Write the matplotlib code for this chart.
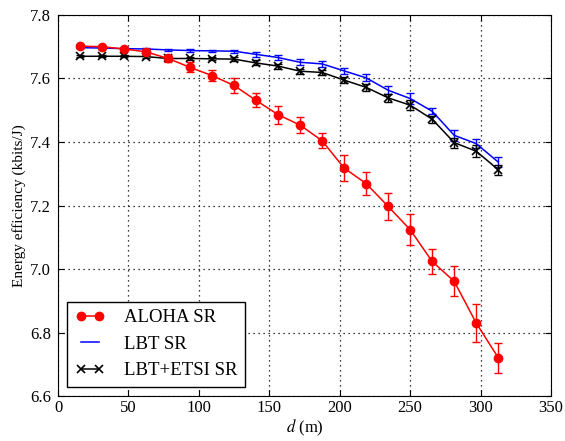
import matplotlib
matplotlib.use('Agg')
import matplotlib.pyplot as plt

# distance (m)
d = [15.6, 31.3, 46.9, 62.5, 78.1, 93.8, 109.4, 125.0, 140.6, 156.3,
     171.9, 187.5, 203.1, 218.8, 234.4, 250.0, 265.6, 281.3, 296.9, 312.5]

# energy efficiency (kbits/J) and confidence half-widths
aloha = [7.702, 7.700, 7.693, 7.684, 7.663, 7.635, 7.609, 7.578, 7.531, 7.486,
         7.453, 7.404, 7.318, 7.269, 7.197, 7.124, 7.024, 6.961, 6.830, 6.721]
aloha_err = [0.003, 0.003, 0.004, 0.008, 0.011, 0.016, 0.017, 0.024, 0.022, 0.028,
             0.026, 0.024, 0.040, 0.035, 0.043, 0.049, 0.039, 0.047, 0.059, 0.047]

lbt = [7.697, 7.696, 7.694, 7.693, 7.690, 7.688, 7.687, 7.686, 7.676, 7.666,
       7.651, 7.646, 7.624, 7.602, 7.563, 7.537, 7.497, 7.421, 7.395, 7.337]
lbt_err = [0.002, 0.002, 0.002, 0.003, 0.003, 0.004, 0.004, 0.005, 0.008, 0.008,
           0.009, 0.009, 0.010, 0.011, 0.012, 0.016, 0.010, 0.018, 0.014, 0.016]

etsi = [7.670, 7.670, 7.670, 7.669, 7.663, 7.663, 7.662, 7.661, 7.649, 7.639,
        7.623, 7.619, 7.595, 7.572, 7.539, 7.516, 7.472, 7.398, 7.371, 7.313]
etsi_err = [0.003, 0.003, 0.003, 0.004, 0.005, 0.005, 0.005, 0.006, 0.008, 0.008,
            0.008, 0.008, 0.010, 0.011, 0.012, 0.016, 0.011, 0.016, 0.018, 0.016]

plt.rcParams['font.family'] = ['Liberation Serif', 'DejaVu Serif']
plt.rcParams['mathtext.fontset'] = 'stix'

fig = plt.figure(figsize=(5.65, 4.41), dpi=100)
ax = fig.add_axes([0.1027, 0.102, 0.8725, 0.864])

# error bars (kept out of the legend)
ax.errorbar(d, lbt, yerr=lbt_err, fmt='none', ecolor='blue', elinewidth=1, capsize=3, capthick=1, zorder=3)
ax.errorbar(d, etsi, yerr=etsi_err, fmt='none', ecolor='black', elinewidth=1, capsize=3, capthick=1, zorder=3)
ax.errorbar(d, aloha, yerr=aloha_err, fmt='none', ecolor='red', elinewidth=1, capsize=3, capthick=1, zorder=4)

ax.plot(d, aloha, color='red', marker='o', markersize=6, markeredgecolor='red', lw=1.1, label='ALOHA SR', zorder=5)
ax.plot(d, lbt, color='blue', lw=1.1, label='LBT SR', zorder=3)
ax.plot(d, etsi, color='black', marker='x', markersize=5.5, mew=1.2, lw=1.1, label='LBT+ETSI SR', zorder=3)

ax.set_xlim(0, 350)
ax.set_ylim(6.6, 7.8)
ax.set_xticks([0, 50, 100, 150, 200, 250, 300, 350])
ax.set_yticks([6.6, 6.8, 7.0, 7.2, 7.4, 7.6, 7.8])
ax.tick_params(direction='in', top=True, right=True, length=4, labelsize=12)
ax.tick_params(axis='x', pad=3)
ax.tick_params(axis='y', pad=5)
ax.grid(True, color='black', linestyle=(0, (1, 3)), linewidth=0.9)

ax.set_xlabel('$d$ (m)', fontsize=12, labelpad=1)
ax.set_ylabel('Energy efficiency (kbits/J)', fontsize=11, labelpad=3)

leg = ax.legend(loc='lower left', numpoints=2, fontsize=13.5, fancybox=False,
                edgecolor='black', framealpha=1, borderaxespad=0.5,
                handlelength=1.6, handletextpad=1.0)
leg.get_frame().set_linewidth(1)

fig.savefig('out.png', dpi=100)
